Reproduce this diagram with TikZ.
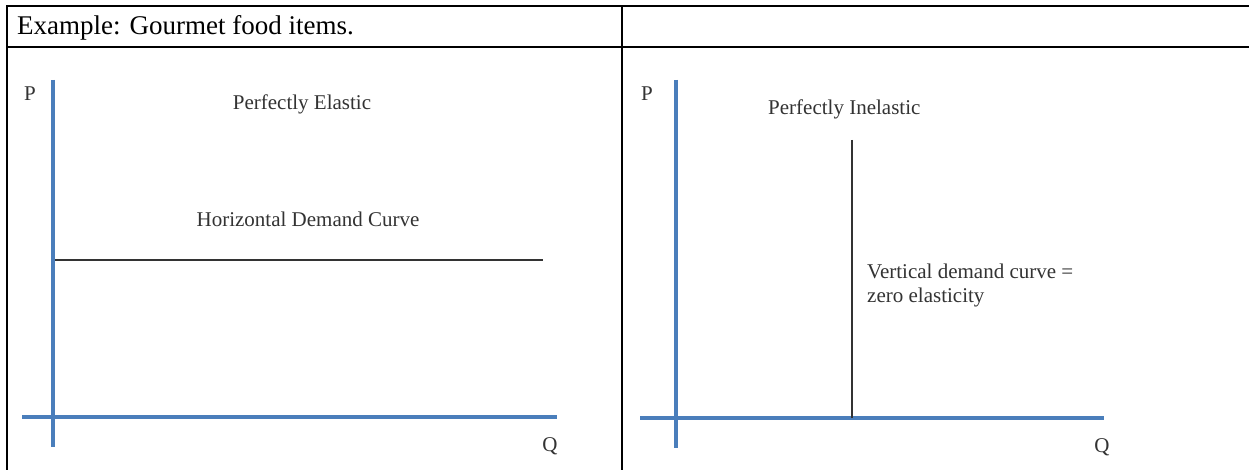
\documentclass[tikz,border=0pt]{standalone}
\usepackage{fontspec}
\setmainfont{Liberation Serif}
\usepackage{xcolor}
\usepackage{tikz}
\definecolor{axblue}{HTML}{4A7EBB}
\definecolor{inkx}{HTML}{333333}
\tikzset{
  axl/.style={line width=4pt,axblue},
  dem/.style={line width=1.6pt,inkx},
  tbl/.style={line width=2pt,black},
  lbl/.style={font=\fontsize{21}{25}\selectfont,text=inkx,inner sep=0pt}
}
\begin{document}
\begin{tikzpicture}[x=1pt,y=-1pt]
\useasboundingbox[fill=white] (0,0) rectangle (1249,470);
% table rules
\draw[tbl] (7,470) -- (7,6) -- (1249,6);
\draw[tbl] (7,47) -- (1249,47);
\draw[tbl] (622,6) -- (622,470);
\node[anchor=base west,inner sep=0pt,font=\fontsize{27}{31}\selectfont] (title) at (17,35) {Example: Gourmet food items.};
% perfectly elastic
\draw[axl] (53,80) -- (53,447);
\draw[axl] (22,417) -- (557,417);
\draw[dem] (55,260) -- (543,260);
\node[lbl,anchor=base] (pL) at (30,101) {P};
\node[lbl,anchor=base] (qL) at (550,451) {Q};
\node[lbl,anchor=base] (elas) at (302,110) {Perfectly Elastic};
\node[lbl,anchor=base] (hdc) at (308,227) {Horizontal Demand Curve};
% perfectly inelastic
\draw[axl] (676,80) -- (676,448);
\draw[axl] (640,418) -- (1104,418);
\draw[dem] (852,140) -- (852,418);
\node[lbl,anchor=base] (pR) at (647,101) {P};
\node[lbl,anchor=base] (qR) at (1102,452) {Q};
\node[lbl,anchor=base west] (inel) at (768,115) {Perfectly Inelastic};
\node[lbl,anchor=base west] (vdc) at (867,278) {Vertical demand curve =};
\node[lbl,anchor=base west] (zel) at (867,302) {zero elasticity};
\end{tikzpicture}
\end{document}
